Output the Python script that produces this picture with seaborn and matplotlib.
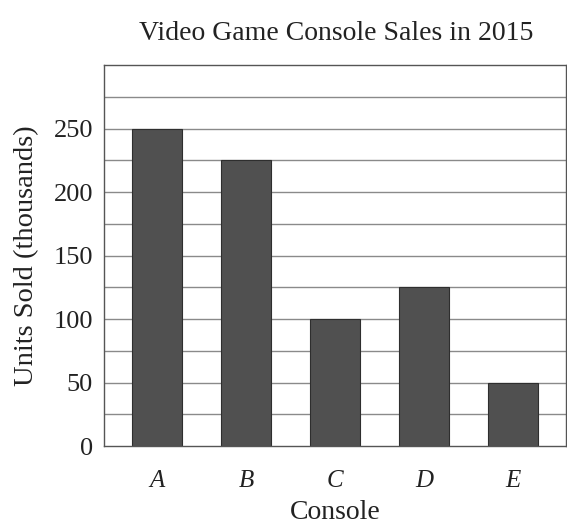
import matplotlib
matplotlib.use("Agg")
import matplotlib.pyplot as plt
import seaborn as sns
import pandas as pd

consoles = ["A", "B", "C", "D", "E"]
units_sold = [250, 225, 100, 125, 50]
y_ticks = [0, 50, 100, 150, 200, 250]
grid_levels = [25, 50, 75, 100, 125, 150, 175, 200, 225, 250, 275]

sns.set_theme(style="white")
plt.rcParams["font.family"] = ["Liberation Serif", "DejaVu Serif"]

df = pd.DataFrame({"Console": consoles, "Units": units_sold})

fig = plt.figure(figsize=(5.67, 5.26), dpi=100)
ax = fig.add_axes([0.1834, 0.152, 0.815, 0.7244])

for g in grid_levels:
    ax.axhline(g, color="#8a8a8a", linewidth=1.0, zorder=0)

sns.barplot(data=df, x="Console", y="Units", color="#505050", width=0.56,
            edgecolor="#2e2e2e", linewidth=0.8, saturation=1, ax=ax, zorder=2)

ax.set_xlim(-0.6, 4.6)
ax.set_ylim(0, 300)
ax.set_yticks(y_ticks)
ax.set_yticklabels([str(t) for t in y_ticks], fontsize=19, color="#222222")
ax.set_xticks(range(len(consoles)))
ax.set_xticklabels(consoles, fontsize=18, style="italic", color="#222222")
ax.tick_params(axis="both", length=0)
ax.tick_params(axis="x", pad=17)
ax.tick_params(axis="y", pad=8)

for side in ["left", "right", "top", "bottom"]:
    ax.spines[side].set_visible(True)
    ax.spines[side].set_color("#555555")
    ax.spines[side].set_linewidth(1.0)

ax.set_xlabel("Console", fontsize=20, color="#222222", labelpad=6)
ax.set_ylabel("Units Sold (thousands)", fontsize=20.5, color="#222222", labelpad=10)
fig.text(0.593, 0.937, "Video Game Console Sales in 2015", ha="center", va="center",
         fontsize=20, color="#222222")

fig.savefig("out.png", dpi=100, facecolor="white")
